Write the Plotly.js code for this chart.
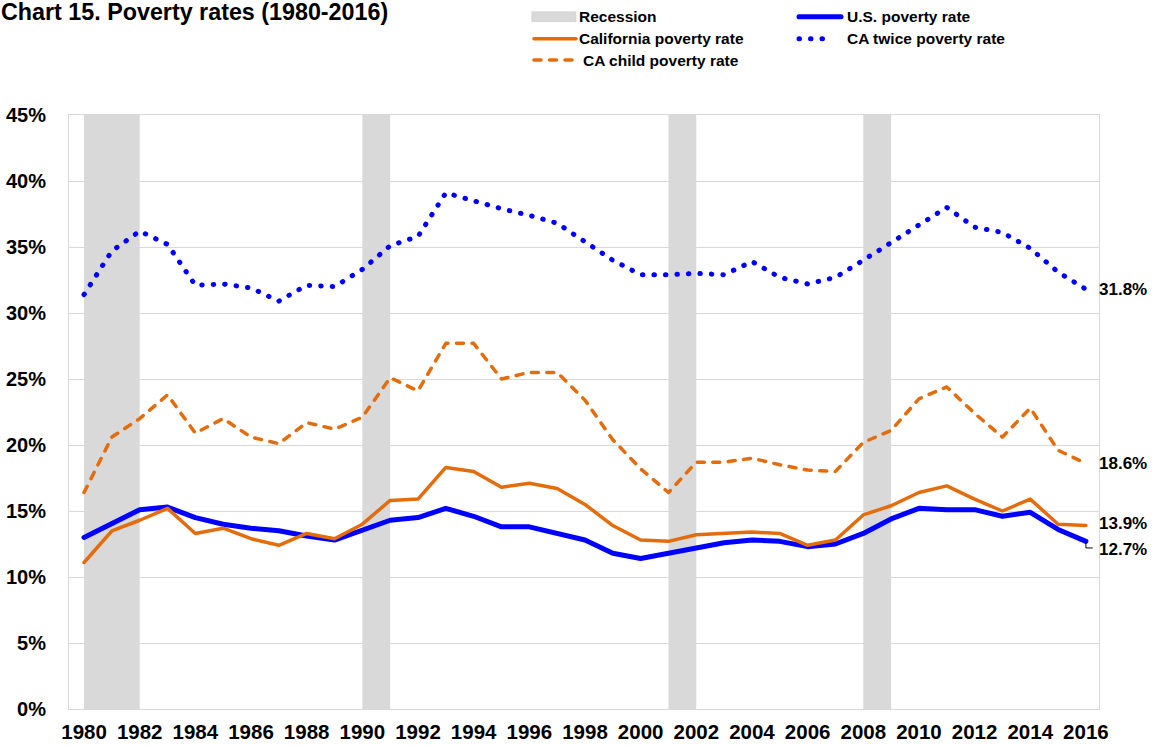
<!DOCTYPE html>
<html>
<head>
<meta charset="utf-8">
<script src="https://cdn.plot.ly/plotly-3.0.1.min.js"></script>
<style>
  html, body { margin: 0; padding: 0; background: #ffffff; }
  #chart { width: 1156px; height: 745px; }
  .scatterlayer .js-line, .shapelayer path { stroke-linecap: round; stroke-linejoin: round; }
</style>
</head>
<body>
<div id="chart"></div>
<script>
// ---------------- DATA ----------------
const years = [1980, 1981, 1982, 1983, 1984, 1985, 1986, 1987, 1988, 1989,
               1990, 1991, 1992, 1993, 1994, 1995, 1996, 1997, 1998, 1999,
               2000, 2001, 2002, 2003, 2004, 2005, 2006, 2007, 2008, 2009,
               2010, 2011, 2012, 2013, 2014, 2015, 2016];

const usPovertyRate = [13.0, 14.1, 15.1, 15.3, 14.5, 14.0, 13.7, 13.5, 13.1, 12.8,
                       13.6, 14.3, 14.5, 15.2, 14.6, 13.8, 13.8, 13.3, 12.8, 11.8,
                       11.4, 11.8, 12.2, 12.6, 12.8, 12.7, 12.3, 12.5, 13.3, 14.4,
                       15.2, 15.1, 15.1, 14.6, 14.9, 13.6, 12.7];

const caPovertyRate = [11.1, 13.5, 14.3, 15.2, 13.3, 13.7, 12.9, 12.4, 13.3, 12.9,
                       14.0, 15.8, 15.9, 18.3, 18.0, 16.8, 17.1, 16.7, 15.5, 13.9,
                       12.8, 12.7, 13.2, 13.3, 13.4, 13.3, 12.4, 12.8, 14.7, 15.4,
                       16.4, 16.9, 15.9, 15.0, 15.9, 14.0, 13.9];

const caChildPovertyRate = [16.4, 20.6, 22.0, 23.8, 20.9, 22.0, 20.6, 20.1, 21.7, 21.2,
                            22.1, 25.1, 24.1, 27.7, 27.7, 25.0, 25.5, 25.5, 23.4, 20.4,
                            18.2, 16.4, 18.7, 18.7, 19.0, 18.5, 18.1, 18.0, 20.2, 21.1,
                            23.5, 24.4, 22.4, 20.6, 22.8, 19.6, 18.6];

const caTwicePovertyRate = [31.4, 34.7, 36.2, 35.2, 32.1, 32.2, 31.9, 30.9, 32.1, 32.0,
                            33.3, 35.1, 35.8, 39.1, 38.5, 37.9, 37.4, 36.8, 35.4, 34.0,
                            32.9, 32.9, 33.0, 32.9, 33.9, 32.7, 32.2, 32.7, 34.0, 35.3,
                            36.7, 38.0, 36.5, 36.1, 34.9, 33.1, 31.8];

const recessionStart = [1980, 1990, 2001, 2008];
const recessionEnd   = [1982, 1991, 2002, 2009];

const xTickYears = [1980, 1982, 1984, 1986, 1988, 1990, 1992, 1994, 1996, 1998,
                    2000, 2002, 2004, 2006, 2008, 2010, 2012, 2014, 2016];
const yTickValues = [0, 5, 10, 15, 20, 25, 30, 35, 40, 45];
const yTickLabels = ['0%', '5%', '10%', '15%', '20%', '25%', '30%', '35%', '40%', '45%'];

const titleText = 'Chart 15. Poverty rates (1980-2016)';
const nameRecession = 'Recession';
const nameUS = 'U.S. poverty rate';
const nameCA = 'California poverty rate';
const nameTwice = 'CA twice poverty rate';
const nameChild = 'CA child poverty rate';

// ---------------- STYLE ----------------
const BLUE = '#0000FF';
const ORANGE = '#E46C0A';
const GREY = '#D9D9D9';
const FONT = 'Liberation Sans, Arial, Helvetica, sans-serif';

const W = 1156, H = 745;
const M = { l: 69, r: 57, t: 115, b: 36 };
const PW = W - M.l - M.r, PH = H - M.t - M.b;
const px = x => (x - M.l) / PW;          // pixel -> paper x
const py = y => (H - M.b - y) / PH;      // pixel -> paper y

const twiceDash = '0.5px,11px';
const childDash = '7px,8.5px';

const traces = [
  { x: years, y: caTwicePovertyRate, name: nameTwice, type: 'scatter', mode: 'lines',
    line: { color: BLUE, width: 5, dash: twiceDash } },
  { x: years, y: caChildPovertyRate, name: nameChild, type: 'scatter', mode: 'lines',
    line: { color: ORANGE, width: 3.5, dash: childDash } },
  { x: years, y: usPovertyRate, name: nameUS, type: 'scatter', mode: 'lines',
    line: { color: BLUE, width: 5 } },
  { x: years, y: caPovertyRate, name: nameCA, type: 'scatter', mode: 'lines',
    line: { color: ORANGE, width: 3.5 } }
];

const shapes = [];
// recession bands from data
recessionStart.forEach((s, i) => {
  shapes.push({ type: 'rect', xref: 'x', yref: 'paper', x0: s, x1: recessionEnd[i],
    y0: 0, y1: 1, fillcolor: GREY, line: { width: 0 }, layer: 'below' });
});

// leader line for last U.S. value
const lastIdx = years.length - 1;
const lastYear = years[lastIdx];
const usLast = usPovertyRate[lastIdx];
shapes.push({ type: 'path', xref: 'x', yref: 'y',
  path: `M${lastYear},${usLast} L${lastYear},${usLast - 0.5} L${lastYear + 0.23},${usLast - 0.5}`,
  line: { color: '#000000', width: 1 } });

// manual legend symbols
const legCol1 = [532, 576], legCol2 = [797, 841];
const row1 = 16.7, row2 = 38.7, row3 = 60;
shapes.push({ type: 'rect', xref: 'paper', yref: 'paper', x0: px(legCol1[0]), x1: px(legCol1[1]),
  y0: py(row1 + 5), y1: py(row1 - 5), fillcolor: GREY, line: { color: '#c8c8c8', width: 0.5 } });
shapes.push({ type: 'line', xref: 'paper', yref: 'paper', x0: px(legCol1[0] + 2), x1: px(legCol1[1]),
  y0: py(row2), y1: py(row2), line: { color: ORANGE, width: 3.5 } });
shapes.push({ type: 'line', xref: 'paper', yref: 'paper', x0: px(legCol1[0] + 2), x1: px(legCol1[1]),
  y0: py(row3), y1: py(row3), line: { color: ORANGE, width: 3.5, dash: childDash } });
shapes.push({ type: 'line', xref: 'paper', yref: 'paper', x0: px(legCol2[0] + 2), x1: px(legCol2[1]),
  y0: py(row1), y1: py(row1), line: { color: BLUE, width: 5 } });
shapes.push({ type: 'line', xref: 'paper', yref: 'paper', x0: px(legCol2[0] + 2), x1: px(legCol2[0] + 35),
  y0: py(row2), y1: py(row2), line: { color: BLUE, width: 5, dash: twiceDash } });

const legFont = { family: FONT, size: 15.5, color: '#000000', weight: 'bold' };
const legendText = (txt, x, y) => ({ text: txt, xref: 'paper', yref: 'paper', x: px(x), y: py(y),
  xanchor: 'left', yanchor: 'middle', showarrow: false, font: legFont });

const endFont = { family: FONT, size: 17, color: '#000000', weight: 'bold' };
const endLabel = (val, shift) => ({ text: val.toFixed(1) + '%', xref: 'x', yref: 'y',
  x: lastYear, y: val, xanchor: 'left', yanchor: 'middle', xshift: 11, yshift: shift,
  showarrow: false, font: endFont });

const annotations = [
  { text: titleText, xref: 'paper', yref: 'paper', x: px(-1), y: py(12), xanchor: 'left',
    yanchor: 'middle', showarrow: false, font: { family: FONT, size: 23.3, color: '#000000', weight: 'bold' } },
  legendText(nameRecession, 577, row1),
  legendText(nameCA, 577, row2),
  legendText(nameChild, 581, row3),
  legendText(nameUS, 845, row1),
  legendText(nameTwice, 845, row2),
  endLabel(caTwicePovertyRate[lastIdx], 0),
  endLabel(caChildPovertyRate[lastIdx], 0),
  endLabel(caPovertyRate[lastIdx], 2.5),
  endLabel(usLast, -8)
];

const layout = {
  width: W, height: H,
  margin: M,
  paper_bgcolor: '#ffffff', plot_bgcolor: '#ffffff',
  showlegend: false,
  xaxis: {
    range: [1979.46, 2016.47], tickvals: xTickYears, ticktext: xTickYears.map(String),
    showgrid: false, zeroline: false, showline: true, mirror: true,
    linecolor: GREY, linewidth: 1, ticks: '', ticklabelstandoff: 4,
    tickfont: { family: FONT, size: 20.5, color: '#000000', weight: 'bold' }
  },
  yaxis: {
    range: [0, 45], tickvals: yTickValues, ticktext: yTickLabels,
    showgrid: true, gridcolor: GREY, gridwidth: 1, zeroline: false,
    showline: true, mirror: true, linecolor: GREY, linewidth: 1, ticks: '',
    ticklabelstandoff: 18,
    tickfont: { family: FONT, size: 20, color: '#000000', weight: 'bold' }
  },
  shapes: shapes,
  annotations: annotations
};

Plotly.newPlot('chart', traces, layout, { staticPlot: true, displayModeBar: false });
</script>
</body>
</html>
